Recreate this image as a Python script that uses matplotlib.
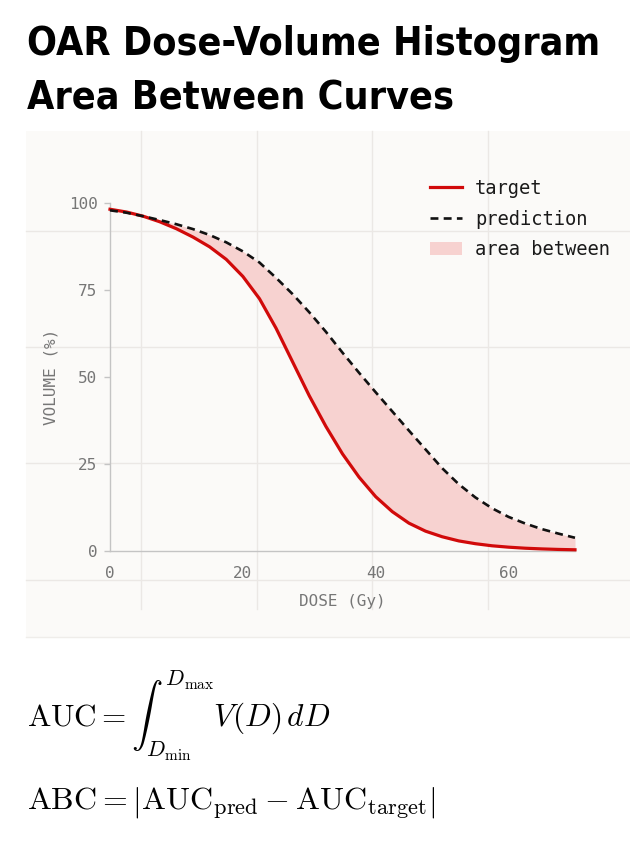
import numpy as np
import matplotlib
matplotlib.use("Agg")
import matplotlib.pyplot as plt
from matplotlib.patches import Rectangle

# dose (Gy) and cumulative volume (%)
dose = [0, 2.5, 5, 7.5, 10, 12.5, 15, 17.5, 20, 22.5, 25, 27.5, 30, 32.5, 35,
        37.5, 40, 42.5, 45, 47.5, 50, 52.5, 55, 57.5, 60, 62.5, 65, 67.5, 70]
target_vol = [98.2, 97.4, 96.2, 94.6, 92.6, 90.2, 87.4, 83.8, 78.9, 72.5, 64.0,
              54.3, 44.6, 35.8, 27.9, 21.2, 15.6, 11.3, 8.0, 5.7, 4.1, 2.9,
              2.1, 1.5, 1.1, 0.8, 0.6, 0.45, 0.35]
pred_vol = [97.9, 97.2, 96.2, 95.1, 93.9, 92.5, 90.8, 88.7, 86.1, 82.9, 78.5,
            73.8, 68.6, 63.0, 57.0, 51.2, 45.6, 40.1, 34.6, 29.2, 23.8, 19.2,
            15.4, 12.3, 9.8, 7.9, 6.3, 5.0, 3.8]
x_ticks = [0, 20, 40, 60]
y_ticks = [0, 25, 50, 75, 100]

W, H = 630, 843
RED = "#d10a0a"
PINK = "#f7d2d0"
GRAY = "#767676"
MONO = "DejaVu Sans Mono"

plt.rcParams["mathtext.fontset"] = "cm"

fig = plt.figure(figsize=(W / 100, H / 100), dpi=100)
fig.patch.set_facecolor("white")

# background panel with its own coarse grid (pixel coordinates)
bg = fig.add_axes([0, 0, 1, 1], zorder=-1)
bg.set_xlim(0, W)
bg.set_ylim(H, 0)
bg.axis("off")
bg.add_patch(Rectangle((26, 131), W - 26, 506, facecolor="#fbfaf8", edgecolor="none"))
for gx in [140.7, 256.5, 372.3, 488.1]:
    bg.plot([gx, gx], [131, 609], color="#ebe8e5", lw=1)
for gy in [231, 347, 463, 580]:
    bg.plot([26, W], [gy, gy], color="#ebe8e5", lw=1)
bg.plot([26, W], [637, 637], color="#efedea", lw=1)

# title
title_font = dict(family="DejaVu Sans", stretch="condensed", weight="bold",
                  size=28.3, color="black")
fig.text(27 / W, 1 - 55 / H, "OAR Dose-Volume Histogram", va="baseline", **title_font)
fig.text(27 / W, 1 - 109 / H, "Area Between Curves", va="baseline", **title_font)

# main chart
ax = fig.add_axes([110 / W, 1 - 551 / H, 465 / W, 348 / H])
ax.patch.set_visible(False)
ax.fill_between(dose, target_vol, pred_vol, color=PINK, lw=0, label="area between", zorder=1)
ax.plot(dose, target_vol, color=RED, lw=2.3, label="target", zorder=3, clip_on=False)
ax.plot(dose, pred_vol, color="#111111", lw=1.9, linestyle=(0, (3.0, 2.0)),
        label="prediction", zorder=4, clip_on=False)

ax.set_xlim(0, 70)
ax.set_ylim(0, 100)
ax.set_xticks(x_ticks)
ax.set_yticks(y_ticks)
for s in ["top", "right"]:
    ax.spines[s].set_visible(False)
for s in ["left", "bottom"]:
    ax.spines[s].set_color("#c4c4c4")
    ax.spines[s].set_linewidth(1)
ax.tick_params(axis="x", length=0, pad=11, labelsize=11.5, labelcolor=GRAY)
ax.tick_params(axis="y", length=4, width=1, color="#c4c4c4", pad=5,
               labelsize=11.5, labelcolor=GRAY)
for lab in ax.get_xticklabels() + ax.get_yticklabels():
    lab.set_family(MONO)
ax.set_xlabel("DOSE (Gy)", family=MONO, fontsize=11.5, color=GRAY, labelpad=9)
ax.set_ylabel("VOLUME (%)", family=MONO, fontsize=11.5, color=GRAY, labelpad=7)

handles, labels = ax.get_legend_handles_labels()
order = [labels.index(n) for n in ["target", "prediction", "area between"]]
leg = ax.legend([handles[i] for i in order], [labels[i] for i in order],
                loc="upper left", bbox_to_anchor=(430 / W, 1 - 179 / H),
                bbox_transform=fig.transFigure, frameon=False, borderpad=0,
                borderaxespad=0, handlelength=1.7, handletextpad=0.7,
                labelspacing=0.62, prop={"family": MONO, "size": 13.5})
for t in leg.get_texts():
    t.set_color("#1a1a1a")

# formulas
fig.text(27 / W, 1 - 727 / H, r"$\mathrm{AUC} = \int_{D_{\min}}^{D_{\max}} V(D)\,dD$",
         fontsize=22.5, va="baseline")
fig.text(27 / W, 1 - 810 / H,
         r"$\mathrm{ABC} = \left|\mathrm{AUC}_{\mathrm{pred}} - \mathrm{AUC}_{\mathrm{target}}\right|$",
         fontsize=23, va="baseline")

fig.savefig("out.png", dpi=100)
